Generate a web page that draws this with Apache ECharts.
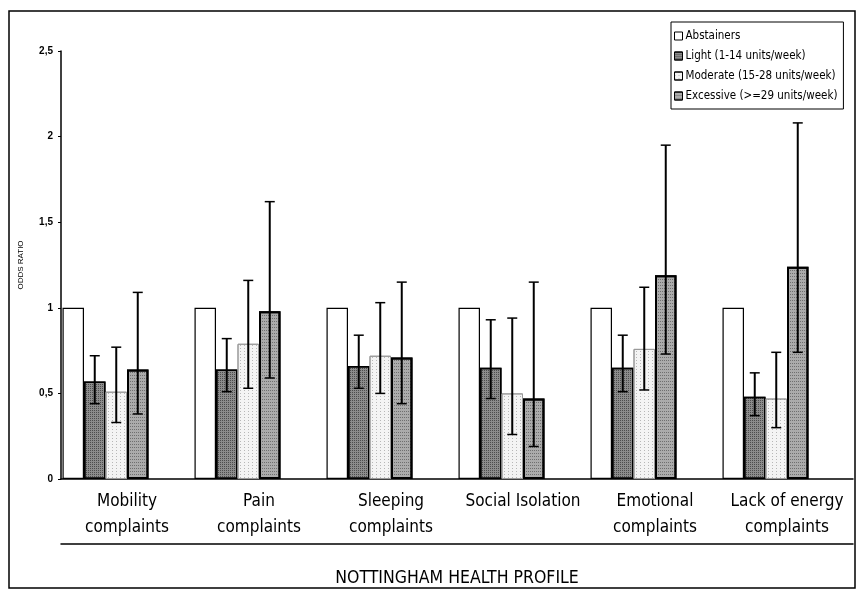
<!DOCTYPE html>
<html>
<head>
<meta charset="utf-8">
<script src="https://cdn.jsdelivr.net/npm/echarts@6/dist/echarts.min.js"></script>
<style>
html,body{margin:0;padding:0;background:#fff;}
#chart{width:859px;height:592px;}
</style>
</head>
<body>
<div id="chart"></div>
<script>
const categories = ['Mobility\ncomplaints','Pain\ncomplaints','Sleeping\ncomplaints','Social Isolation','Emotional\ncomplaints','Lack of energy\ncomplaints'];
const seriesNames = ['Abstainers','Light (1-14 units/week)','Moderate (15-28 units/week)','Excessive (>=29 units/week)'];
const yTicks = [0, 0.5, 1, 1.5, 2, 2.5];
const abstainers = [1, 1, 1, 1, 1, 1];
const light = [0.57, 0.64, 0.66, 0.65, 0.65, 0.48];
const lightLow = [0.44, 0.51, 0.53, 0.47, 0.51, 0.37];
const lightHigh = [0.72, 0.82, 0.84, 0.93, 0.84, 0.62];
const moderate = [0.51, 0.79, 0.72, 0.50, 0.76, 0.47];
const moderateLow = [0.33, 0.53, 0.50, 0.26, 0.52, 0.30];
const moderateHigh = [0.77, 1.16, 1.03, 0.94, 1.12, 0.74];
const excessive = [0.64, 0.98, 0.71, 0.47, 1.19, 1.24];
const excessiveLow = [0.38, 0.59, 0.44, 0.19, 0.73, 0.74];
const excessiveHigh = [1.09, 1.62, 1.15, 1.15, 1.95, 2.08];

const BW = 21.5;      // bar width in px
const NSLOT = 6;      // 4 visible series + 2 spacer slots
function slotOffset(i){ return -NSLOT*BW/2 + BW*(i+0.5); }

function errSeries(low, high, slot){
  return {
    type: 'custom',
    silent: true,
    z: 10,
    data: low.map((v,i)=>[i, v, high[i]]),
    renderItem: function(params, api){
      const c = api.value(0);
      const p1 = api.coord([c, api.value(1)]);
      const p2 = api.coord([c, api.value(2)]);
      const x = p1[0] + slotOffset(slot);
      const cap = 5;
      return {
        type: 'group',
        children: [
          {type:'line', shape:{x1:x, y1:p1[1], x2:x, y2:p2[1]}, style:{stroke:'#000', lineWidth:2}},
          {type:'line', shape:{x1:x-cap, y1:p1[1], x2:x+cap, y2:p1[1]}, style:{stroke:'#000', lineWidth:1.5}},
          {type:'line', shape:{x1:x-cap, y1:p2[1], x2:x+cap, y2:p2[1]}, style:{stroke:'#000', lineWidth:1.5}}
        ]
      };
    }
  };
}

const chart = echarts.init(document.getElementById('chart'), null, {renderer:'canvas'});
chart.setOption({
  animation: false,
  backgroundColor: '#fff',
  grid: {left: 61, right: 6, top: 51, bottom: 104, containLabel: false},
  legend: {
    data: seriesNames,
    orient: 'vertical',
    left: 671, top: 22,
    padding: [8, 6, 7, 3],
    itemGap: 8,
    itemWidth: 8, itemHeight: 8,
    icon: 'rect',
    borderColor: '#000', borderWidth: 1,
    backgroundColor: '#fff',
    itemStyle: {borderWidth: 1, borderColor: '#000'},
    textStyle: {fontFamily: 'DejaVu Sans Condensed', fontSize: 11.5, color: '#000', padding: [0,0,0,-2]}
  },
  xAxis: [{
    type: 'category',
    data: categories,
    axisLine: {lineStyle: {color: '#000', width: 1.5}},
    axisTick: {show: false},
    axisLabel: {interval: 0, margin: 10, color: '#000', fontFamily: 'DejaVu Sans Condensed', fontSize: 17, lineHeight: 26}
  }, {
    type: 'category',
    data: categories,
    position: 'bottom',
    offset: 65,
    axisLine: {show: true, lineStyle: {color: '#000', width: 1.5}},
    axisTick: {show: false},
    axisLabel: {show: false},
    name: 'NOTTINGHAM HEALTH PROFILE',
    nameLocation: 'middle',
    nameGap: 25,
    nameTextStyle: {color: '#000', fontFamily: 'DejaVu Sans Condensed', fontSize: 17.5}
  }],
  yAxis: {
    type: 'value',
    min: 0, max: 2.5, interval: 0.5,
    name: 'ODDS RATIO',
    nameLocation: 'middle',
    nameGap: 36,
    nameTextStyle: {color: '#000', fontFamily: 'Liberation Sans', fontSize: 8},
    axisLine: {show: true, lineStyle: {color: '#000', width: 1.5}},
    axisTick: {show: true, length: 3, lineStyle: {color: '#000'}},
    splitLine: {show: false},
    axisLabel: {
      color: '#000', fontFamily: 'Liberation Sans', fontWeight: 'bold', fontSize: 10, margin: 8,
      formatter: v => (yTicks.indexOf(v) >= 0 ? String(v).replace('.', ',') : '')
    }
  },
  series: [
    {name: seriesNames[0], type: 'bar', data: abstainers, barWidth: BW, barGap: '0%',
     itemStyle: {color: '#fff', borderColor: '#000', borderWidth: 1.2}},
    {name: seriesNames[1], type: 'bar', data: light, barWidth: BW, barGap: '0%',
     itemStyle: {color: '#8c8c8c', borderColor: '#000', borderWidth: 1.5,
       decal: {symbol: 'rect', symbolSize: 1, dashArrayX: [1, 1], dashArrayY: [1, 1], color: 'rgba(0,0,0,0.45)'}}},
    {name: seriesNames[2], type: 'bar', data: moderate, barWidth: BW, barGap: '0%',
     itemStyle: {color: '#f4f4f4', borderColor: '#999', borderWidth: 1,
       decal: {symbol: 'rect', symbolSize: 1, dashArrayX: [1, 3], dashArrayY: [1, 2], color: 'rgba(0,0,0,0.25)'}}},
    {name: seriesNames[3], type: 'bar', data: excessive, barWidth: BW, barGap: '0%',
     itemStyle: {color: '#ababab', borderColor: '#000', borderWidth: 2,
       decal: {symbol: 'rect', symbolSize: 1, dashArrayX: [1, 1], dashArrayY: [1, 2], color: 'rgba(0,0,0,0.35)'}}},
    {name: 'spacer1', type: 'bar', data: categories.map(()=>'-'), barWidth: BW, barGap: '0%', silent: true},
    {name: 'spacer2', type: 'bar', data: categories.map(()=>'-'), barWidth: BW, barGap: '0%', silent: true},
    errSeries(lightLow, lightHigh, 1),
    errSeries(moderateLow, moderateHigh, 2),
    errSeries(excessiveLow, excessiveHigh, 3)
  ],
  graphic: [{
    type: 'rect', silent: true, z: -1,
    shape: {x: 9, y: 11, width: 846, height: 577},
    style: {fill: 'none', stroke: '#000', lineWidth: 1.5}
  }]
});
</script>
</body>
</html>
